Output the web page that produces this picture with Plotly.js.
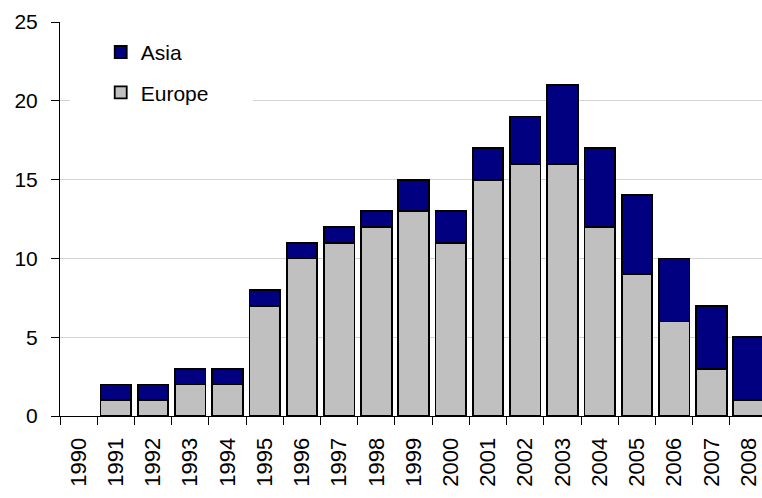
<!DOCTYPE html>
<html>
<head>
<meta charset="utf-8">
<script src="https://cdn.plot.ly/plotly-3.0.1.min.js"></script>
<style>html,body{margin:0;padding:0;background:#fff;overflow:hidden;}#chart{width:762px;height:498px;}</style>
</head>
<body>
<div id="chart"></div>
<script>
const years = ['1990','1991','1992','1993','1994','1995','1996','1997','1998','1999','2000','2001','2002','2003','2004','2005','2006','2007','2008'];
const europe = [0,1,1,2,2,7,10,11,12,13,11,15,16,16,12,9,6,3,1];
const asia   = [0,1,1,1,1,1,1,1,1,2,2,2,3,5,5,5,4,4,4];
const yTicks = [0,5,10,15,20,25];

const FONT = 'Liberation Sans, Arial, sans-serif';
const noZero = v => (v === 0 ? null : v);

const traces = [
  {type:'bar', name:'Europe', x:years, y:europe.map(noZero), legendgroup:'e', legendrank:2,
   marker:{color:'#C0C0C0', line:{color:'#000000', width:1.8}}},
  {type:'bar', name:'Asia', x:years, y:asia.map(noZero), legendgroup:'a', legendrank:1,
   marker:{color:'#000080', line:{color:'#000000', width:1.8}}}
];

const layout = {
  width:762, height:498,
  margin:{l:60, r:0, t:22, b:82, pad:0},
  paper_bgcolor:'#ffffff', plot_bgcolor:'#ffffff',
  barmode:'stack', bargap:0.18,
  font:{family:FONT, size:21, color:'#000'},
  showlegend:true,
  legend:{x:0.058, xanchor:'left', y:0.975, yanchor:'top', traceorder:'grouped',
          tracegroupgap:10, bgcolor:'rgba(0,0,0,0)', font:{family:FONT, size:21, color:'#000'}},
  shapes:[{type:'rect', xref:'paper', yref:'paper', x0:10/702, x1:193/702, y0:(415.7-110)/393.7, y1:(415.7-28)/393.7,
           fillcolor:'#ffffff', line:{width:0}, layer:'above'}],
  xaxis:{type:'category', range:[-0.5,18.36], tickangle:-90, tickson:'boundaries',
         ticks:'outside', ticklen:8, tickcolor:'#000', tickwidth:1, ticklabelstandoff:12,
         showline:true, linecolor:'#000', linewidth:1, showgrid:false,
         tickfont:{family:FONT, size:22, color:'#000'}, automargin:false, fixedrange:true},
  yaxis:{range:[0,25], tickvals:yTicks, ticktext:yTicks.map(String),
         ticks:'outside', ticklen:8, tickcolor:'#000', tickwidth:1, ticklabelstandoff:9,
         showline:true, linecolor:'#000', linewidth:1,
         showgrid:true, gridcolor:'#d4d4d4', gridwidth:1, zeroline:false,
         tickfont:{family:FONT, size:21, color:'#000'}, automargin:false, fixedrange:true}
};

Plotly.newPlot('chart', traces, layout, {displayModeBar:false, staticPlot:true});
</script>
</body>
</html>
